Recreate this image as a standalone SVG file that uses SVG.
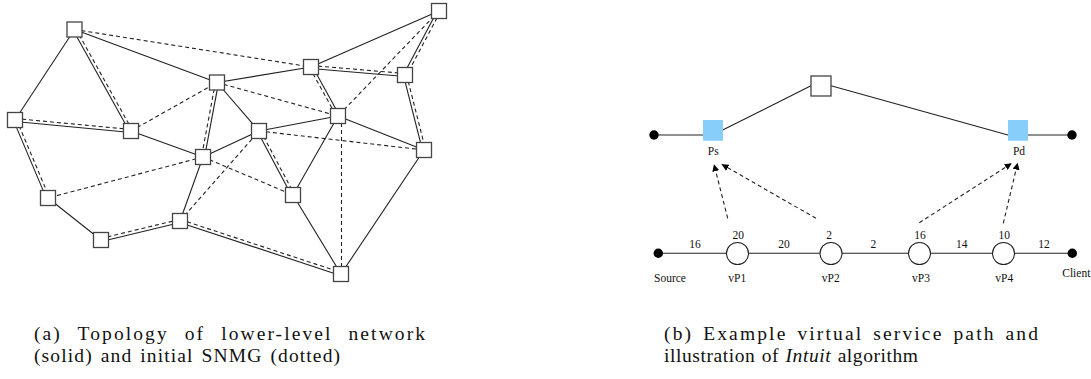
<svg xmlns="http://www.w3.org/2000/svg" width="1091" height="379" viewBox="0 0 1091 379">
<style>
.s{stroke:#222;stroke-width:1.1;fill:none}
.d{stroke:#222;stroke-width:1.1;fill:none;stroke-dasharray:4 3}
.nb{fill:#fff;stroke:#444;stroke-width:1.3}
.dot{fill:#000}
.vp{fill:#fff;stroke:#222;stroke-width:1.1}
.pb{fill:#87cefa}
</style>
<defs>
<marker id="ah" viewBox="0 0 10 10" refX="10" refY="5" markerWidth="7" markerHeight="7" markerUnits="userSpaceOnUse" orient="auto">
<path d="M0,0 L10,5 L0,10 z" fill="#000"/>
</marker>
</defs>
<g id="connectors">
<line class="s" x1="74.5" y1="29.5" x2="15" y2="120"/>
<line class="s" x1="74.5" y1="29.5" x2="217" y2="82.5"/>
<line class="s" x1="131" y1="131" x2="203" y2="157"/>
<line class="s" x1="217" y1="82.5" x2="311" y2="67"/>
<line class="s" x1="217" y1="82.5" x2="259" y2="131"/>
<line class="s" x1="311" y1="67" x2="439" y2="11"/>
<line class="s" x1="338" y1="116" x2="259" y2="131"/>
<line class="s" x1="338" y1="116" x2="424" y2="150"/>
<line class="s" x1="338" y1="116" x2="293" y2="195"/>
<line class="s" x1="259" y1="131" x2="203" y2="157"/>
<line class="s" x1="203" y1="157" x2="180" y2="221"/>
<line class="s" x1="293" y1="195" x2="341" y2="274"/>
<line class="s" x1="424" y1="150" x2="341" y2="274"/>
<line class="s" x1="48" y1="198" x2="101" y2="240"/>
<line class="d" x1="74.5" y1="29.5" x2="311" y2="67"/>
<line class="d" x1="131" y1="131" x2="217" y2="82.5"/>
<line class="d" x1="217" y1="82.5" x2="338" y2="116"/>
<line class="d" x1="439" y1="11" x2="338" y2="116"/>
<line class="d" x1="341.5" y1="116" x2="341.5" y2="274"/>
<line class="d" x1="259" y1="131" x2="424" y2="150"/>
<line class="d" x1="180" y1="221" x2="259" y2="131"/>
<line class="d" x1="203" y1="157" x2="293" y2="195"/>
<line class="d" x1="203" y1="157" x2="48" y2="198"/>
<line class="s" x1="73.2" y1="30.2" x2="129.7" y2="131.7"/>
<line class="d" x1="75.8" y1="28.8" x2="132.3" y2="130.3"/>
<line class="s" x1="14.9" y1="121.5" x2="130.9" y2="132.5"/>
<line class="d" x1="15.1" y1="118.5" x2="131.1" y2="129.5"/>
<line class="s" x1="13.6" y1="120.6" x2="46.6" y2="198.6"/>
<line class="d" x1="16.4" y1="119.4" x2="49.4" y2="197.4"/>
<line class="s" x1="218.5" y1="82.8" x2="204.5" y2="157.3"/>
<line class="d" x1="215.5" y1="82.2" x2="201.5" y2="156.7"/>
<line class="s" x1="310.9" y1="68.5" x2="404.9" y2="76.5"/>
<line class="d" x1="311.1" y1="65.5" x2="405.1" y2="73.5"/>
<line class="s" x1="312.3" y1="66.3" x2="339.3" y2="115.3"/>
<line class="d" x1="309.7" y1="67.7" x2="336.7" y2="116.7"/>
<line class="s" x1="437.7" y1="10.3" x2="403.7" y2="74.3"/>
<line class="d" x1="440.3" y1="11.7" x2="406.3" y2="75.7"/>
<line class="s" x1="403.5" y1="75.4" x2="422.5" y2="150.4"/>
<line class="d" x1="406.5" y1="74.6" x2="425.5" y2="149.6"/>
<line class="s" x1="257.7" y1="131.7" x2="291.7" y2="195.7"/>
<line class="d" x1="260.3" y1="130.3" x2="294.3" y2="194.3"/>
<line class="s" x1="101.4" y1="241.5" x2="180.4" y2="222.5"/>
<line class="d" x1="100.6" y1="238.5" x2="179.6" y2="219.5"/>
<line class="s" x1="179.5" y1="222.4" x2="340.5" y2="275.4"/>
<line class="d" x1="180.5" y1="219.6" x2="341.5" y2="272.6"/>
<line class="s" x1="654" y1="135" x2="703" y2="135"/>
<line class="s" x1="722.7" y1="130" x2="811" y2="85.7"/>
<line class="s" x1="831" y1="85.7" x2="1008" y2="135"/>
<line class="s" x1="1028" y1="135" x2="1072" y2="135"/>
<line class="s" x1="658" y1="253.3" x2="1072" y2="253.3"/>
<line class="d" x1="727.7" y1="218.3" x2="714" y2="164.3" marker-end="url(#ah)"/>
<line class="d" x1="816" y1="218.3" x2="721.7" y2="164.3" marker-end="url(#ah)"/>
<line class="d" x1="919.3" y1="222.7" x2="1011.7" y2="163.3" marker-end="url(#ah)"/>
<line class="d" x1="1003.3" y1="223.3" x2="1017.7" y2="162.7" marker-end="url(#ah)"/>
</g>
<g id="nA"><rect class="nb" x="67" y="22" width="15" height="15"/></g>
<g id="nB"><rect class="nb" x="7.5" y="112.5" width="15" height="15"/></g>
<g id="nC"><rect class="nb" x="123.5" y="123.5" width="15" height="15"/></g>
<g id="nD"><rect class="nb" x="209.5" y="75" width="15" height="15"/></g>
<g id="nE"><rect class="nb" x="303.5" y="59.5" width="15" height="15"/></g>
<g id="nF"><rect class="nb" x="431.5" y="3.5" width="15" height="15"/></g>
<g id="nG"><rect class="nb" x="397.5" y="67.5" width="15" height="15"/></g>
<g id="nH"><rect class="nb" x="330.5" y="108.5" width="15" height="15"/></g>
<g id="nI"><rect class="nb" x="251.5" y="123.5" width="15" height="15"/></g>
<g id="nJ"><rect class="nb" x="416.5" y="142.5" width="15" height="15"/></g>
<g id="nK"><rect class="nb" x="195.5" y="149.5" width="15" height="15"/></g>
<g id="nL"><rect class="nb" x="285.5" y="187.5" width="15" height="15"/></g>
<g id="nM"><rect class="nb" x="40.5" y="190.5" width="15" height="15"/></g>
<g id="nN"><rect class="nb" x="93.5" y="232.5" width="15" height="15"/></g>
<g id="nO"><rect class="nb" x="172.5" y="213.5" width="15" height="15"/></g>
<g id="nP"><rect class="nb" x="333.5" y="266.5" width="15" height="15"/></g>
<g font-family="Liberation Serif, serif" font-size="11.5" fill="#111" text-anchor="middle">
<g id="dotL"><circle class="dot" cx="654" cy="135" r="4.7"/></g>
<g id="Ps"><rect class="pb" x="703" y="120" width="20" height="20.7"/><text x="713.3" y="155">Ps</text></g>
<g id="Mid"><rect class="nb" x="811" y="76" width="20" height="20"/></g>
<g id="Pd"><rect class="pb" x="1008" y="120" width="20" height="20.7"/><text x="1019" y="155">Pd</text></g>
<g id="dotR"><circle class="dot" cx="1072" cy="135" r="4.7"/></g>
<g id="Source"><circle class="dot" cx="658.3" cy="253.3" r="4.7"/><text x="670" y="282.3">Source</text></g>
<g id="vP1"><circle class="vp" cx="737.5" cy="253.5" r="11"/><text x="738.3" y="239.3">20</text><text x="737.3" y="282.3">vP1</text></g>
<g id="vP2"><circle class="vp" cx="831" cy="253.5" r="11"/><text x="829" y="239.3">2</text><text x="830.7" y="282.3">vP2</text></g>
<g id="vP3"><circle class="vp" cx="919.5" cy="253.5" r="11"/><text x="920" y="239.3">16</text><text x="921" y="282.3">vP3</text></g>
<g id="vP4"><circle class="vp" cx="1003.5" cy="253.5" r="11"/><text x="1004.3" y="239.3">10</text><text x="1004.3" y="282.3">vP4</text></g>
<g id="Client"><circle class="dot" cx="1072.3" cy="253.3" r="4.7"/><text x="1076.3" y="277.3">Client</text></g>
<g id="edgeLabels">
<text x="695" y="248.3">16</text>
<text x="784" y="248.3">20</text>
<text x="873.3" y="248.3">2</text>
<text x="961.7" y="248.3">14</text>
<text x="1044" y="248.3">12</text>
</g>
</g>
<g id="captions" font-family="Liberation Serif, serif" font-size="19.5" fill="#111">
<text x="34" y="340" word-spacing="9" textLength="391" lengthAdjust="spacing">(a) Topology of lower-level network</text>
<text x="34" y="361.5" word-spacing="2" textLength="306" lengthAdjust="spacing">(solid) and initial SNMG (dotted)</text>
<text x="664" y="340" word-spacing="3" textLength="374" lengthAdjust="spacing">(b) Example virtual service path and</text>
<text x="664" y="361.5" word-spacing="1" textLength="254" lengthAdjust="spacing">illustration of <tspan font-style="italic">Intuit</tspan> algorithm</text>
</g>
</svg>
